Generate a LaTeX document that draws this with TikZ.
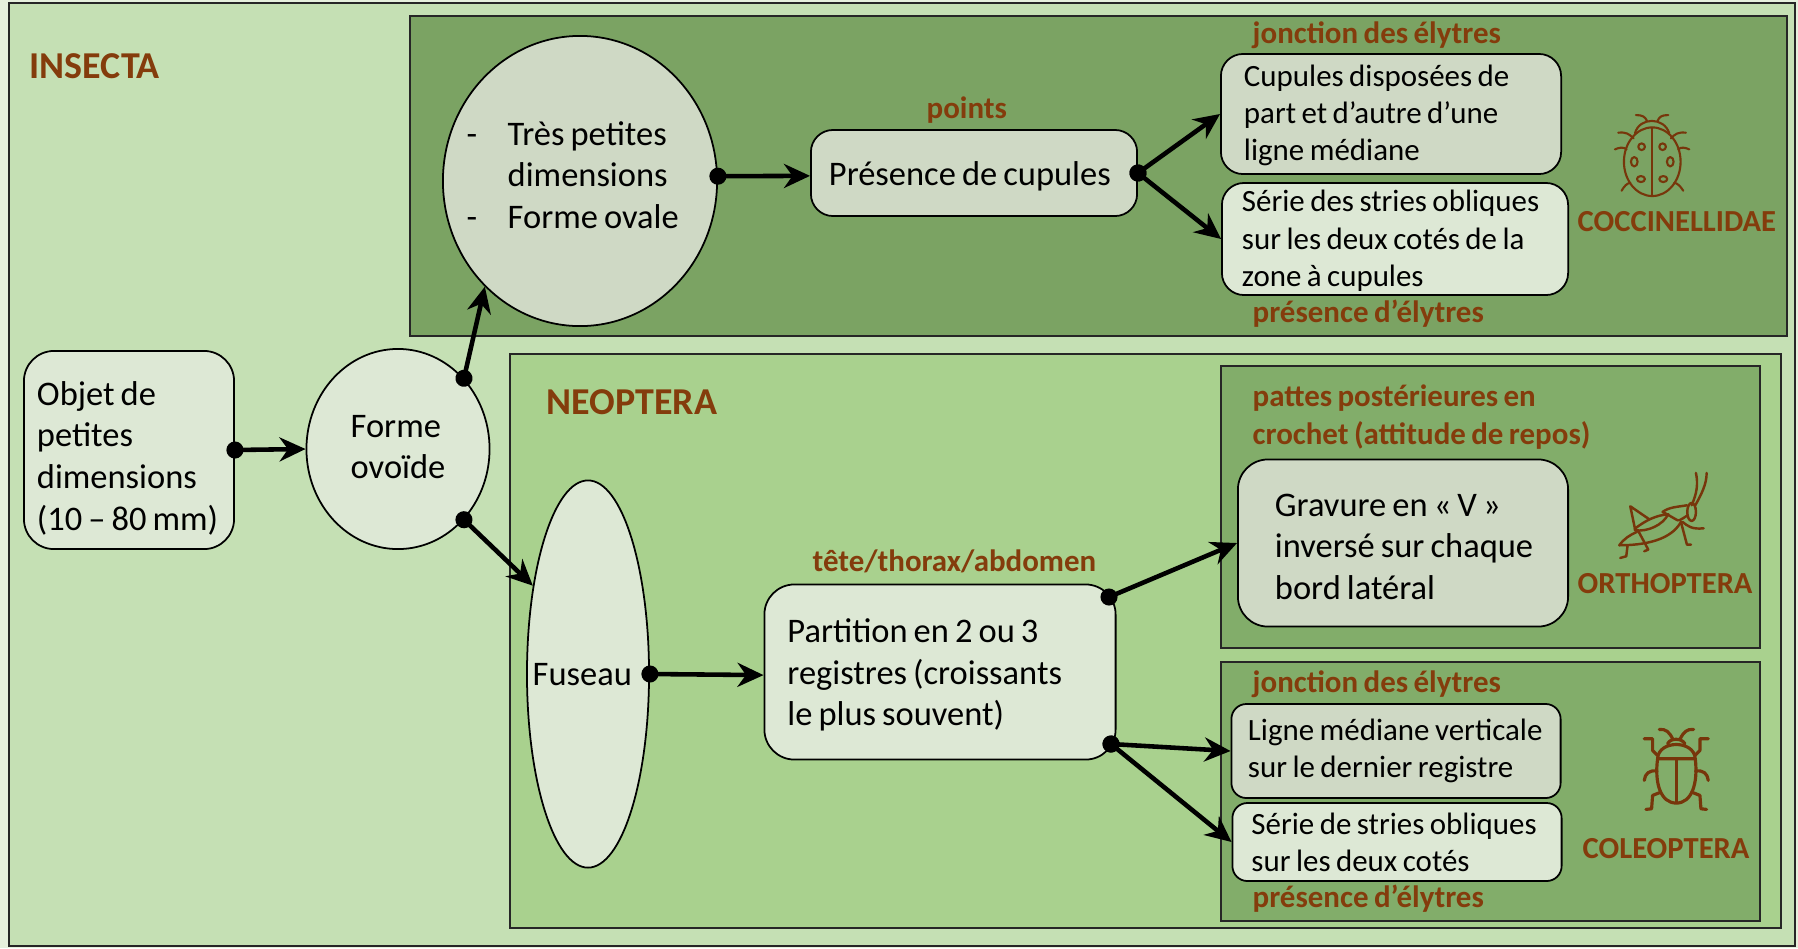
\documentclass[tikz,border=0pt]{standalone}
\usepackage{fontspec}
\setmainfont{Carlito}[WordSpace=0.78]
\usepackage{tikz}
\usetikzlibrary{arrows.meta,shapes.geometric,positioning}

\definecolor{Margin}{HTML}{E6F0DD}
\definecolor{Insecta}{HTML}{C5E0B4}
\definecolor{Neoptera}{HTML}{A9D18E}
\definecolor{DarkZone}{HTML}{7BA363}
\definecolor{MidZone}{HTML}{82AD6A}
\definecolor{Pale}{HTML}{CFD9C5}
\definecolor{Light}{HTML}{DDE8D5}
\definecolor{Brown}{HTML}{843C0C}

\newcommand{\Nudge}[1]{\rule{0pt}{#1pt}}

\begin{document}
\begin{tikzpicture}[x=0.01cm, y=-0.01cm]
	\tikzstyle{Zone}	= [draw=black!85, line width=0.7pt]
	\tikzstyle{Box}		= [rectangle, draw=black, line width=0.5pt, rounded corners=0.22cm, align=flush left, inner ysep=0pt, font=\fontsize{9.8}{11.85}\selectfont]
	\tikzstyle{Oval}	= [ellipse, draw=black, line width=0.5pt, inner sep=0pt]
	\tikzstyle{Txt}		= [anchor=west, inner sep=0pt, align=left, font=\fontsize{9.8}{11.85}\selectfont]
	\tikzstyle{Note}	= [anchor=west, inner sep=0pt, align=left, text=Brown, font=\fontsize{8.8}{10.6}\selectfont\bfseries]
	\tikzstyle{Order}	= [anchor=west, inner sep=0pt, text=Brown, font=\fontsize{8.7}{10}\selectfont\bfseries]
	\tikzstyle{Title}	= [anchor=west, inner sep=0pt, text=Brown, font=\fontsize{10.8}{12}\selectfont\bfseries]
	\tikzstyle{Link}	= [{Circle[length=0.17cm]}-{Stealth[length=0.26cm, width=0.24cm]}, line width=1.3pt, shorten <=-0.085cm]
	\tikzstyle{Icon}	= [draw=Brown!90!black, line cap=round, line join=round]

	\useasboundingbox (0,0) rectangle (1798,948);
	\fill [Margin] (0,0) rectangle (1798,948);
	\draw [Zone, fill=Insecta] (9,3) rectangle (1795,946);
	\draw [Zone, fill=DarkZone] (410,16) rectangle (1787,336);
	\draw [Zone, fill=Neoptera] (510,354) rectangle (1781,928);
	\draw [Zone, fill=MidZone] (1221,366) rectangle (1760,648);
	\draw [Zone, fill=MidZone] (1221,662) rectangle (1760,921);

	\node (objet) at (129,450) [Box, fill=Light, minimum width=2.1cm, minimum height=1.98cm, text width=1.84cm, inner xsep=0.13cm, rounded corners=0.3cm] {\Nudge{11.4}Objet de\\petites\\dimensions\\(10 -- 80 mm)};
	\node (ovoide) at (398,449) [Oval, fill=Light, minimum width=1.83cm, minimum height=2.0cm] {};
	\node (tres) at (580,181) [Oval, fill=Pale, minimum width=2.74cm, minimum height=2.9cm] {};
	\node (fuseau) at (588,674) [Oval, fill=Light, minimum width=1.22cm, minimum height=3.87cm] {};
	\node (cupules) at (974,173) [Box, fill=Pale, minimum width=3.26cm, minimum height=0.86cm, text width=2.9cm, inner xsep=0.18cm] {\Nudge{8.6}Présence de cupules};
	\node (mediane) at (1391,114) [Box, fill=Pale, minimum width=3.4cm, minimum height=1.2cm, text width=2.94cm, inner xsep=0.23cm, font=\fontsize{8.8}{10.6}\selectfont] {\Nudge{7}Cupules disposées de\\part et d’autre d’une\\ligne médiane};
	\node (stries) at (1395,239) [Box, fill=Light, minimum width=3.46cm, minimum height=1.12cm, text width=3.06cm, inner xsep=0.2cm, font=\fontsize{8.8}{10.6}\selectfont] {\Nudge{7.2}Série des stries obliques\\sur les deux cotés de la\\zone à cupules};
	\node (partition) at (940,672) [Box, fill=Light, minimum width=3.51cm, minimum height=1.75cm, text width=3.05cm, inner xsep=0.23cm, rounded corners=0.3cm] {\Nudge{8.5}Partition en 2 ou 3\\registres (croissants\\le plus souvent)};
	\node (gravure) at (1403,543) [Box, fill=Pale, minimum width=3.3cm, minimum height=1.67cm, text width=2.56cm, inner xsep=0.37cm, rounded corners=0.3cm] {\Nudge{8.5}Gravure en « V »\\\mbox{inversé sur chaque}\\bord latéral};
	\node (ligne) at (1396,751) [Box, fill=Pale, minimum width=3.29cm, minimum height=0.94cm, text width=2.96cm, inner xsep=0.165cm, rounded corners=0.15cm, font=\fontsize{8.8}{10.6}\selectfont] {Ligne médiane verticale\\sur le dernier registre};
	\node (serie) at (1397,842) [Box, fill=Light, minimum width=3.29cm, minimum height=0.78cm, text width=2.91cm, inner xsep=0.19cm, rounded corners=0.15cm, font=\fontsize{8.8}{10.6}\selectfont] {Série de stries obliques\\sur les deux cotés};

	\node (ovoidetxt) at (350,447) [Txt] {Forme\\ovoïde};
	\node (trestxt) at (466,175) [Txt] {\makebox[0.41cm][l]{-}Très petites\\\hspace{0.41cm}dimensions\\\makebox[0.41cm][l]{-}Forme ovale};
	\node (fuseautxt) at (532,675) [Txt] {Fuseau};

	\node (insecta) at (29,66) [Title] {INSECTA};
	\node (neoptera) at (546,402) [Title] {NEOPTERA};
	\node (jonctiona) at (1252,35) [Note] {jonction des élytres};
	\node (points) at (926,110) [Note] {points};
	\node (presencea) at (1252,314) [Note] {présence d’élytres};
	\node (pattes) at (1252,417) [Note] {pattes postérieures en\\crochet (attitude de repos)};
	\node (tete) at (812,561) [Note] {tête/thorax/abdomen};
	\node (jonctionb) at (1252,684) [Note] {jonction des élytres};
	\node (presenceb) at (1252,899) [Note] {présence d’élytres};
	\node (coccinellidae) at (1577,222) [Order] {COCCINELLIDAE};
	\node (orthoptera) at (1577,584) [Order] {ORTHOPTERA};
	\node (coleoptera) at (1582,849) [Order] {COLEOPTERA};

	\coordinate (parttop) at (1109,597);
	\coordinate (partlow) at (1111,744);

	\draw [Link] (objet.east) to (ovoide.west);
	\draw [Link] (ovoide.47) to (tres.228);
	\draw [Link] (ovoide.-47) to (fuseau.122);
	\draw [Link] (tres.2) to (cupules.181);
	\draw [Link] (cupules.east) to (mediane.west);
	\draw [Link] (cupules.east) to (stries.west);
	\draw [Link] (fuseau.east) to (partition.181);
	\draw [Link] (parttop) to (gravure.west);
	\draw [Link] (partlow) to (ligne.west);
	\draw [Link] (partlow) to (serie.west);

	\begin{scope}[xshift=15.6cm, yshift=-0.9cm, x=0.01cm/3, y=-0.01cm/3, line width=0.6pt]
		\draw [Icon] (274,215) ellipse [x radius=85, y radius=103];
		\draw [Icon] (274,113) -- (274,317);
		\draw [Icon] (222,130) .. controls (235,80) and (310,80) .. (325,130);
		\draw [Icon] (225,75) .. controls (245,75) and (252,80) .. (258,92);
		\draw [Icon] (322,75) .. controls (302,75) and (296,80) .. (290,92);
		\draw [Icon] (172,128) .. controls (195,125) and (205,132) .. (218,145);
		\draw [Icon] (375,128) .. controls (352,125) and (342,132) .. (330,145);
		\draw [Icon] (162,178) .. controls (175,172) and (188,170) .. (197,178);
		\draw [Icon] (385,178) .. controls (372,172) and (360,170) .. (352,178);
		\draw [Icon] (182,302) .. controls (190,288) and (198,280) .. (208,278);
		\draw [Icon] (367,302) .. controls (358,288) and (350,280) .. (340,278);
		\draw [Icon] (242,170) circle [radius=10];
		\draw [Icon] (305,170) circle [radius=10];
		\draw [Icon] (220,215) ellipse [x radius=10, y radius=14];
		\draw [Icon] (328,215) ellipse [x radius=10, y radius=14];
		\draw [Icon] (240,267) ellipse [x radius=12, y radius=9];
		\draw [Icon] (307,267) ellipse [x radius=12, y radius=9];
	\end{scope}

	\begin{scope}[xshift=15.6cm, yshift=-4.5cm, x=0.01cm/3, y=-0.01cm/3, line width=0.7pt]
		\draw [Icon] (405,68) .. controls (412,100) and (408,130) .. (392,165);
		\draw [Icon] (437,68) .. controls (438,100) and (420,135) .. (403,165);
		\draw [Icon] (392,185) ellipse [x radius=13, y radius=27];
		\draw [Icon] (305,185) .. controls (325,170) and (350,170) .. (378,165);
		\draw [Icon] (380,195) .. controls (365,205) and (355,212) .. (350,210) .. controls (340,205) and (325,195) .. (305,185);
		\draw [Icon] (222,235) .. controls (255,210) and (285,195) .. (322,192) .. controls (305,225) and (260,245) .. (222,240) -- cycle;
		\draw [Icon] (175,285) .. controls (190,265) and (205,255) .. (228,245);
		\draw [Icon] (175,285) .. controls (250,285) and (330,270) .. (360,215);
		\draw [Icon] (222,235) -- (208,168) -- (265,207);
		\draw [Icon] (232,242) -- (262,298) -- (250,303);
		\draw [Icon] (200,285) -- (196,318) -- (178,323);
		\draw [Icon] (360,215) -- (378,283) -- (390,283);
		\draw [Icon] (365,215) .. controls (380,228) and (395,238) .. (428,234);
	\end{scope}

	\begin{scope}[xshift=15.6cm, yshift=-7cm, x=0.01cm/3, y=-0.01cm/3, line width=0.9pt]
		\draw [Icon] (295,87) .. controls (315,85) and (325,95) .. (335,115);
		\draw [Icon] (398,87) .. controls (378,85) and (368,95) .. (358,115);
		\draw [Icon] (320,130) .. controls (328,112) and (362,112) .. (372,130);
		\draw [Icon] (290,175) .. controls (292,118) and (400,118) .. (403,175) -- cycle;
		\draw [Icon] (290,175) .. controls (280,250) and (300,308) .. (346,308) .. controls (392,308) and (412,250) .. (403,175);
		\draw [Icon] (346,177) -- (346,306);
		\draw [Icon] (290,165) -- (275,150) -- (275,115) -- (250,115);
		\draw [Icon] (402,165) -- (417,150) -- (417,115) -- (442,115);
		\draw [Icon] (288,212) .. controls (265,208) and (252,220) .. (250,240);
		\draw [Icon] (404,212) .. controls (427,208) and (440,220) .. (442,240);
		\draw [Icon] (295,277) -- (275,285) -- (272,325) -- (255,327);
		\draw [Icon] (397,277) -- (417,285) -- (420,325) -- (437,327);
	\end{scope}
\end{tikzpicture}
\end{document}
